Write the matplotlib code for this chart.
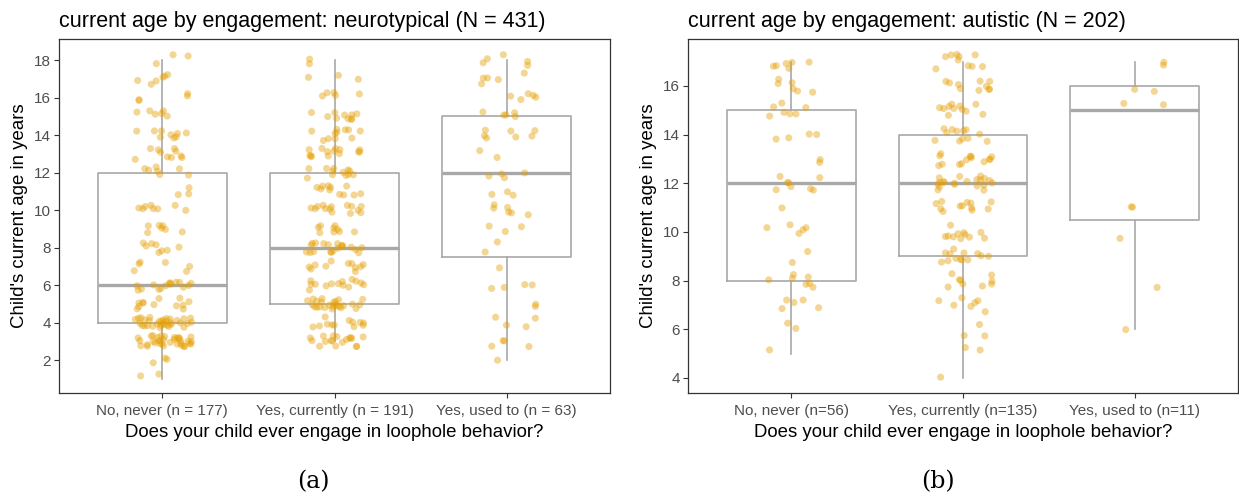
import matplotlib
matplotlib.use("Agg")
import matplotlib.pyplot as plt
import numpy as np

plt.rcParams["font.family"] = ["Liberation Sans", "DejaVu Sans"]

# ages (years) and how many children sit at each age, per engagement group
AGES = np.arange(1, 19)

NT_LABELS = ["No, never (n = 177)", "Yes, currently (n = 191)", "Yes, used to (n = 63)"]
NT_NEVER = [2, 3, 35, 33, 12, 15, 6, 8, 7, 8, 3, 7, 10, 9, 6, 4, 6, 3]
NT_CURRENT = [0, 0, 18, 12, 25, 14, 11, 20, 9, 14, 11, 12, 14, 11, 10, 5, 3, 2]
NT_USED = [0, 1, 4, 4, 2, 4, 1, 2, 3, 6, 3, 4, 2, 7, 5, 5, 5, 5]

AU_LABELS = ["No, never (n=56)", "Yes, currently (n=135)", "Yes, used to (n=11)"]
AU_NEVER = [0, 0, 0, 0, 1, 2, 5, 7, 2, 5, 1, 8, 2, 4, 7, 6, 6, 0]
AU_CURRENT = [0, 0, 0, 1, 2, 3, 7, 9, 13, 11, 12, 20, 14, 12, 11, 10, 10, 0]
AU_USED = [0, 0, 0, 0, 0, 1, 0, 1, 0, 1, 2, 0, 0, 0, 2, 2, 2, 0]

POINT_COLOR = "#E69F00"
BOX_COLOR = "#A8A8A8"
FRAME_COLOR = "#333333"
TICK_TEXT = "#4D4D4D"


def expand(counts):
    return np.repeat(AGES, counts).astype(float)


def jitter(n, seed):
    # deterministic jitter from quadratic Weyl sequences, no random draws
    k = np.arange(n) + seed
    jx = ((k * k * 0.4142135624 + k * 0.7548776662) % 1.0 - 0.5) * 2
    jy = ((k * k * 0.2360679775 + k * 0.5698402910) % 1.0 - 0.5) * 2
    return jx, jy


def panel(ax, groups, labels, title, ylim, yticks):
    data = [expand(g) for g in groups]
    ax.boxplot(
        data, positions=[1, 2, 3], widths=0.75, whis=1.5, showfliers=False,
        patch_artist=False,
        boxprops=dict(color=BOX_COLOR, lw=1.2),
        whiskerprops=dict(color=BOX_COLOR, lw=1.2),
        capprops=dict(visible=False),
        medianprops=dict(color=BOX_COLOR, lw=2.4),
        zorder=1,
    )
    for i, vals in enumerate(data):
        jx, jy = jitter(len(vals), seed=11 * i + 5)
        ax.scatter(i + 1 + jx * 0.17, vals + jy * 0.3, s=26, color=POINT_COLOR,
                   alpha=0.42, edgecolors="none", zorder=2)

    ax.set_xlim(0.4, 3.6)
    ax.set_ylim(*ylim)
    ax.set_yticks(yticks)
    ax.set_xticks([1, 2, 3])
    ax.set_xticklabels(labels)
    for s in ax.spines.values():
        s.set_color(FRAME_COLOR)
        s.set_linewidth(0.9)
    ax.tick_params(direction="out", length=3.5, width=0.8, color=FRAME_COLOR,
                   labelcolor=TICK_TEXT, labelsize=11, pad=2.5)
    ax.tick_params(axis="x", pad=4.5)
    ax.set_xlabel("Does your child ever engage in loophole behavior?", fontsize=13.4, labelpad=4)
    ax.set_ylabel("Child's current age in years", fontsize=13.4, labelpad=4)
    ax.set_title(title, loc="left", fontsize=15.5, pad=9)


fig = plt.figure(figsize=(12.39, 5.0), dpi=100)
ax1 = fig.add_axes([59 / 1239, 107 / 500, 551 / 1239, 354 / 500])
ax2 = fig.add_axes([688 / 1239, 107 / 500, 550 / 1239, 354 / 500])

panel(ax1, [NT_NEVER, NT_CURRENT, NT_USED], NT_LABELS,
      "current age by engagement: neurotypical (N = 431)", (0.24, 19.12), range(2, 19, 2))
panel(ax2, [AU_NEVER, AU_CURRENT, AU_USED], AU_LABELS,
      "current age by engagement: autistic (N = 202)", (3.38, 17.93), range(4, 17, 2))

fig.text(313 / 1239, 1 - 482 / 500, "(a)", ha="center", va="center",
         fontsize=17, family="DejaVu Serif")
fig.text(938 / 1239, 1 - 482 / 500, "(b)", ha="center", va="center",
         fontsize=17, family="DejaVu Serif")

fig.savefig("out.png", dpi=100)
